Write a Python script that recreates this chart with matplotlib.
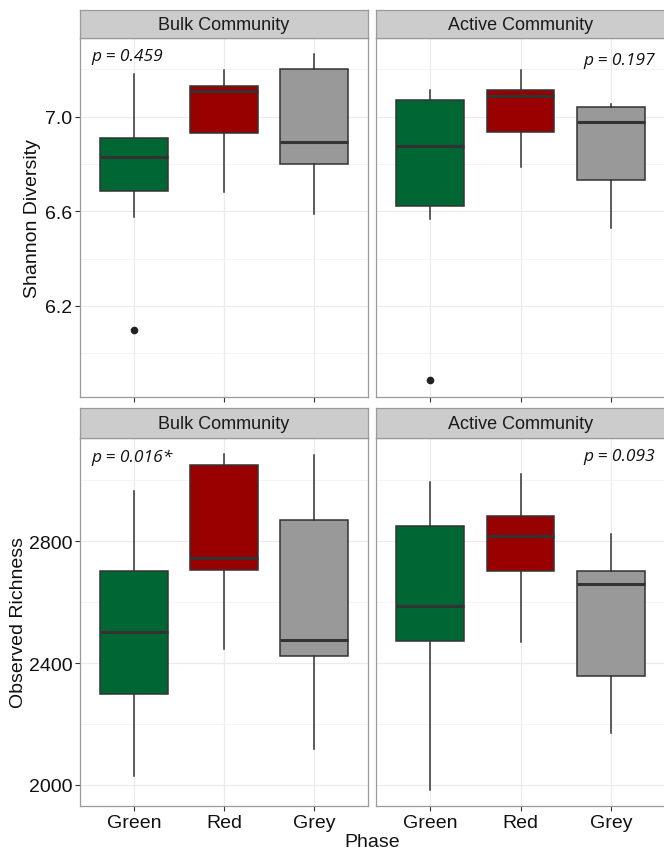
import matplotlib.pyplot as plt

plt.rcParams['font.family'] = ['Liberation Sans', 'DejaVu Sans']

fases = ["Green", "Red", "Grey"]
cores = ["#006633", "#990000", "#999999"]

# Shannon - Bulk Community
sh_bulk_min = [6.575, 6.680, 6.589]
sh_bulk_q1 = [6.685, 6.931, 6.800]
sh_bulk_med = [6.830, 7.110, 6.892]
sh_bulk_q3 = [6.911, 7.130, 7.203]
sh_bulk_max = [7.180, 7.199, 7.265]
sh_bulk_out = [[6.099], [], []]

# Shannon - Active Community
sh_act_min = [6.568, 6.789, 6.531]
sh_act_q1 = [6.624, 6.935, 6.734]
sh_act_med = [6.877, 7.087, 6.979]
sh_act_q3 = [7.069, 7.114, 7.042]
sh_act_max = [7.114, 7.199, 7.052]
sh_act_out = [[5.885], [], []]

# Observed Richness - Bulk Community
ob_bulk_min = [2030, 2446, 2118]
ob_bulk_q1 = [2297, 2706, 2422]
ob_bulk_med = [2501, 2743, 2476]
ob_bulk_q3 = [2703, 3049, 2870]
ob_bulk_max = [2964, 3085, 3082]
ob_bulk_out = [[], [], []]

# Observed Richness - Active Community
ob_act_min = [1984, 2470, 2172]
ob_act_q1 = [2473, 2702, 2358]
ob_act_med = [2586, 2815, 2660]
ob_act_q3 = [2848, 2881, 2703]
ob_act_max = [2994, 3019, 2823]
ob_act_out = [[], [], []]

p_textos = ["p = 0.459", "p = 0.197", "p = 0.016*", "p = 0.093"]
titulos = ["Bulk Community", "Active Community"]

W, H = 664, 853
fig = plt.figure(figsize=(W / 100, H / 100), dpi=100)


def eixo(x0, y0, x1, y1):
    return fig.add_axes([x0 / W, 1 - y1 / H, (x1 - x0) / W, (y1 - y0) / H])


def faixa(x0, y0, x1, y1, texto):
    a = eixo(x0, y0, x1, y1)
    a.set_facecolor("#cccccc")
    a.set_xticks([])
    a.set_yticks([])
    for s in a.spines.values():
        s.set_color("#9a9a9a")
        s.set_linewidth(0.9)
    a.text(0.5, 0.47, texto, ha="center", va="center", fontsize=13, color="#1a1a1a",
           transform=a.transAxes)


def desenha(ax, mins, q1s, meds, q3s, maxs, outs, ylim, maj, mino):
    stats = []
    for i in range(3):
        stats.append(dict(whislo=mins[i], q1=q1s[i], med=meds[i], q3=q3s[i],
                          whishi=maxs[i], fliers=outs[i]))
    bp = ax.bxp(stats, positions=[1, 2, 3], widths=0.75, patch_artist=True,
                showcaps=False,
                boxprops=dict(edgecolor="#333333", linewidth=1.1),
                medianprops=dict(color="#333333", linewidth=2.2),
                whiskerprops=dict(color="#333333", linewidth=1.1),
                flierprops=dict(marker="o", markerfacecolor="#222222",
                                markeredgecolor="#222222", markersize=4.5))
    for caixa, c in zip(bp["boxes"], cores):
        caixa.set_facecolor(c)
    ax.set_xlim(0.4, 3.6)
    ax.set_ylim(*ylim)
    ax.set_xticks([1, 2, 3])
    ax.set_yticks(maj)
    ax.set_yticks(mino, minor=True)
    ax.grid(True, which="major", color="#ebebeb", linewidth=0.9)
    ax.grid(True, which="minor", axis="y", color="#f2f2f2", linewidth=0.6)
    ax.set_axisbelow(True)
    ax.tick_params(which="minor", length=0)
    ax.tick_params(which="major", length=3.5, width=0.8, color="#333333",
                   labelsize=14, labelcolor="#111111", pad=2)
    for s in ax.spines.values():
        s.set_color("#9a9a9a")
        s.set_linewidth(0.9)


# linha de cima: Shannon
ax1 = eixo(80, 39, 368, 398)
desenha(ax1, sh_bulk_min, sh_bulk_q1, sh_bulk_med, sh_bulk_q3, sh_bulk_max, sh_bulk_out,
        (5.815, 7.333), [6.2, 6.6, 7.0], [6.0, 6.4, 6.8, 7.2])
ax1.set_yticklabels(["6.2", "6.6", "7.0"])
ax1.set_xticklabels([])
ax1.set_ylabel("Shannon Diversity", fontsize=14, color="#111111", labelpad=3)

ax2 = eixo(376, 39, 665, 398)
desenha(ax2, sh_act_min, sh_act_q1, sh_act_med, sh_act_q3, sh_act_max, sh_act_out,
        (5.815, 7.333), [6.2, 6.6, 7.0], [6.0, 6.4, 6.8, 7.2])
ax2.set_yticklabels([])
ax2.set_xticklabels([])
ax2.tick_params(axis="y", length=0)

# linha de baixo: riqueza observada
ax3 = eixo(80, 439, 368, 807)
desenha(ax3, ob_bulk_min, ob_bulk_q1, ob_bulk_med, ob_bulk_q3, ob_bulk_max, ob_bulk_out,
        (1931, 3138), [2000, 2400, 2800], [2200, 2600, 3000])
ax3.set_xticklabels(fases)
ax3.set_ylabel("Observed Richness", fontsize=14, color="#111111", labelpad=1)

ax4 = eixo(376, 439, 665, 807)
desenha(ax4, ob_act_min, ob_act_q1, ob_act_med, ob_act_q3, ob_act_max, ob_act_out,
        (1931, 3138), [2000, 2400, 2800], [2200, 2600, 3000])
ax4.set_xticklabels(fases)
ax4.set_yticklabels([])
ax4.tick_params(axis="y", length=0)

faixa(80, 11, 368, 39, titulos[0])
faixa(376, 11, 665, 39, titulos[1])
faixa(80, 409, 368, 439, titulos[0])
faixa(376, 409, 665, 439, titulos[1])

# valores de p
fp = dict(fontsize=12.5, style="italic", color="#111111", family=["Open Sans", "DejaVu Sans"])
ax1.text(0.04, 0.95, p_textos[0], ha="left", va="center", transform=ax1.transAxes, **fp)
ax2.text(0.965, 0.94, p_textos[1], ha="right", va="center", transform=ax2.transAxes, **fp)
ax3.text(0.04, 0.95, p_textos[2], ha="left", va="center", transform=ax3.transAxes, **fp)
ax4.text(0.965, 0.95, p_textos[3], ha="right", va="center", transform=ax4.transAxes, **fp)

fig.text(372 / W, 1 - 843 / H, "Phase", ha="center", va="center", fontsize=14,
         color="#111111")

fig.savefig("out.png", dpi=100)
